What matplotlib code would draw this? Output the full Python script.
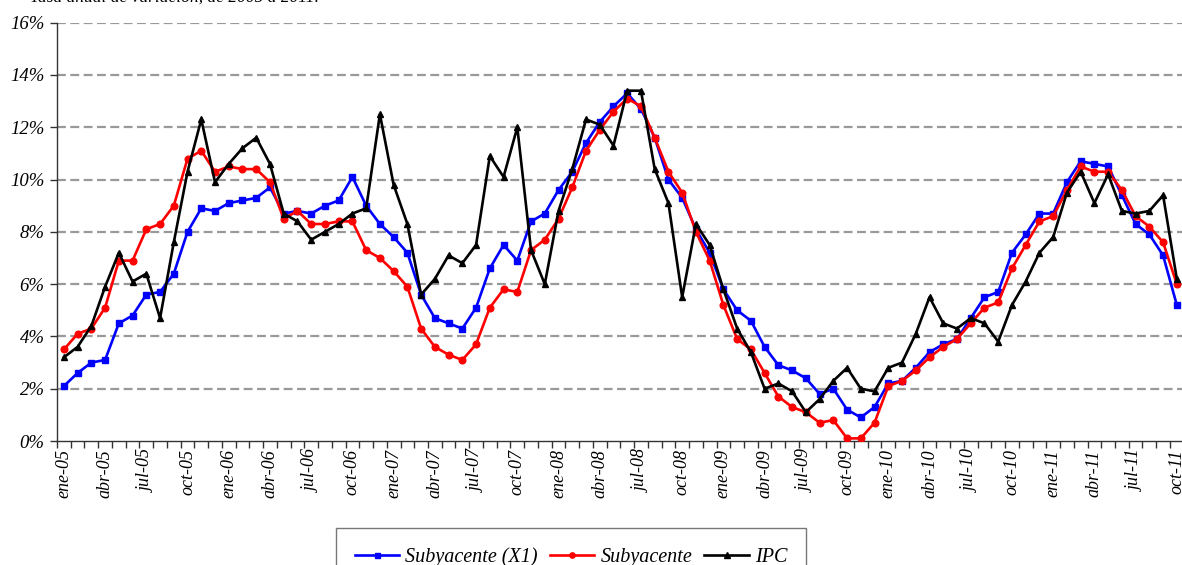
import matplotlib
matplotlib.use("Agg")
import matplotlib.pyplot as plt
from matplotlib.ticker import FixedLocator, FuncFormatter
import numpy as np

meses = ["ene", "feb", "mar", "abr", "may", "jun", "jul", "ago", "sep", "oct", "nov", "dic"]
fechas = [f"{m}-{a:02d}" for a in range(5, 12) for m in meses][:82]

subyacente_x1 = [2.1, 2.6, 3.0, 3.1, 4.5, 4.8, 5.6, 5.7, 6.4, 8.0, 8.9, 8.8, 9.1, 9.2, 9.3, 9.7, 8.7, 8.8, 8.7, 9.0, 9.2,
                 10.1, 9.0, 8.3, 7.8, 7.2, 5.6, 4.7, 4.5, 4.3, 5.1, 6.6, 7.5, 6.9, 8.4, 8.7, 9.6, 10.3, 11.4, 12.2,
                 12.8, 13.3, 12.7, 11.6, 10.0, 9.3, 8.1, 7.2, 5.8, 5.0, 4.6, 3.6, 2.9, 2.7, 2.4, 1.8, 2.0, 1.2,
                 0.9, 1.3, 2.2, 2.3, 2.8, 3.4, 3.7, 3.9, 4.7, 5.5, 5.7, 7.2, 7.9, 8.7, 8.7, 9.9, 10.7, 10.6, 10.5,
                 9.4, 8.3, 7.9, 7.1, 5.2]
subyacente = [3.5, 4.1, 4.3, 5.1, 6.9, 6.9, 8.1, 8.3, 9.0, 10.8, 11.1, 10.3, 10.5, 10.4, 10.4, 9.9, 8.5, 8.8, 8.3, 8.3, 8.4,
              8.4, 7.3, 7.0, 6.5, 5.9, 4.3, 3.6, 3.3, 3.1, 3.7, 5.1, 5.8, 5.7, 7.3, 7.7, 8.5, 9.7, 11.1, 11.9,
              12.6, 13.1, 12.8, 11.6, 10.3, 9.5, 8.0, 6.9, 5.2, 3.9, 3.5, 2.6, 1.7, 1.3, 1.1, 0.7, 0.8, 0.1,
              0.1, 0.7, 2.1, 2.3, 2.7, 3.2, 3.6, 3.9, 4.5, 5.1, 5.3, 6.6, 7.5, 8.4, 8.6, 9.6, 10.5, 10.3, 10.3,
              9.6, 8.6, 8.2, 7.6, 6.0]
ipc = [3.2, 3.6, 4.4, 5.9, 7.2, 6.1, 6.4, 4.7, 7.6, 10.3, 12.3, 9.9, 10.6, 11.2, 11.6, 10.6, 8.7, 8.4, 7.7, 8.0, 8.3,
       8.7, 8.9, 12.5, 9.8, 8.3, 5.6, 6.2, 7.1, 6.8, 7.5, 10.9, 10.1, 12.0, 7.3, 6.0, 8.8, 10.4, 12.3, 12.1,
       11.3, 13.4, 13.4, 10.4, 9.1, 5.5, 8.3, 7.5, 5.8, 4.3, 3.4, 2.0, 2.2, 1.9, 1.1, 1.6, 2.3, 2.8,
       2.0, 1.9, 2.8, 3.0, 4.1, 5.5, 4.5, 4.3, 4.7, 4.5, 3.8, 5.2, 6.1, 7.2, 7.8, 9.5, 10.3, 9.1, 10.2,
       8.8, 8.7, 8.8, 9.4, 6.2]

y_ticks = [0, 2, 4, 6, 8, 10, 12, 14, 16]
titulo = "Tasa anual de variación, de 2005 a 2011."

FONT = ["Liberation Serif", "DejaVu Serif"]
W, H = 1182, 565
fig = plt.figure(figsize=(W / 100, H / 100), dpi=100)
left_px, right_px = 57, 1183.7
top_px, bot_px = 22.7, 441
ax = fig.add_axes([left_px / W, (H - bot_px) / H, (right_px - left_px) / W, (bot_px - top_px) / H])

x = np.arange(len(fechas))
ax.plot(x, subyacente_x1, color="#0000ff", lw=1.9, marker="s", ms=4.5, label="Subyacente (X1)", zorder=3)
ax.plot(x, subyacente, color="#ff0000", lw=1.9, marker="o", ms=4.8, label="Subyacente", zorder=4)
ax.plot(x, ipc, color="#000000", lw=1.9, marker="^", ms=5, label="IPC", zorder=5)

ax.set_xlim(-0.5, len(fechas) - 0.5)
ax.set_ylim(0, 16)
ax.set_yticks(y_ticks)
ax.yaxis.set_major_formatter(FuncFormatter(lambda v, p: f"{v:.0f}%"))
for t in y_ticks[1:]:
    ax.axhline(t, color="#999999", lw=1.6, ls=(0, (4, 2)), zorder=1)

ax.xaxis.set_major_locator(FixedLocator(np.arange(-0.5, len(fechas), 1.0)))
ax.set_xticklabels([])
ax.set_xticks(x[::3], minor=True)
ax.set_xticklabels([fechas[i] for i in x[::3]], minor=True, rotation=90,
                   fontfamily=FONT, fontstyle="italic", fontsize=13)
ax.tick_params(axis="x", which="major", length=5, width=1, color="#333333", direction="out")
ax.tick_params(axis="x", which="minor", length=0, pad=6)
ax.tick_params(axis="y", length=5, width=1, color="#333333", direction="out", pad=4)
for lab in ax.get_yticklabels():
    lab.set_fontfamily(FONT)
    lab.set_fontstyle("italic")
    lab.set_fontsize(13.5)

for s in ["top", "right"]:
    ax.spines[s].set_visible(False)
for s in ["left", "bottom"]:
    ax.spines[s].set_color("#333333")
    ax.spines[s].set_linewidth(1)

leg = fig.legend(loc="upper left", bbox_to_anchor=(336 / W, 1 - 528 / H), ncol=3,
                 prop={"family": FONT, "style": "italic", "size": 14.5},
                 frameon=True, fancybox=False, edgecolor="#555555",
                 handlelength=2.2, columnspacing=0.6, handletextpad=0.3, borderpad=0.95,
                 borderaxespad=0, markerscale=0.8)
leg.get_frame().set_linewidth(1)

fig.text(30 / W, 1 - 1.5 / H, titulo, fontfamily=FONT, fontstyle="italic", fontsize=12.5, va="baseline")

fig.savefig("out.png", dpi=100)
